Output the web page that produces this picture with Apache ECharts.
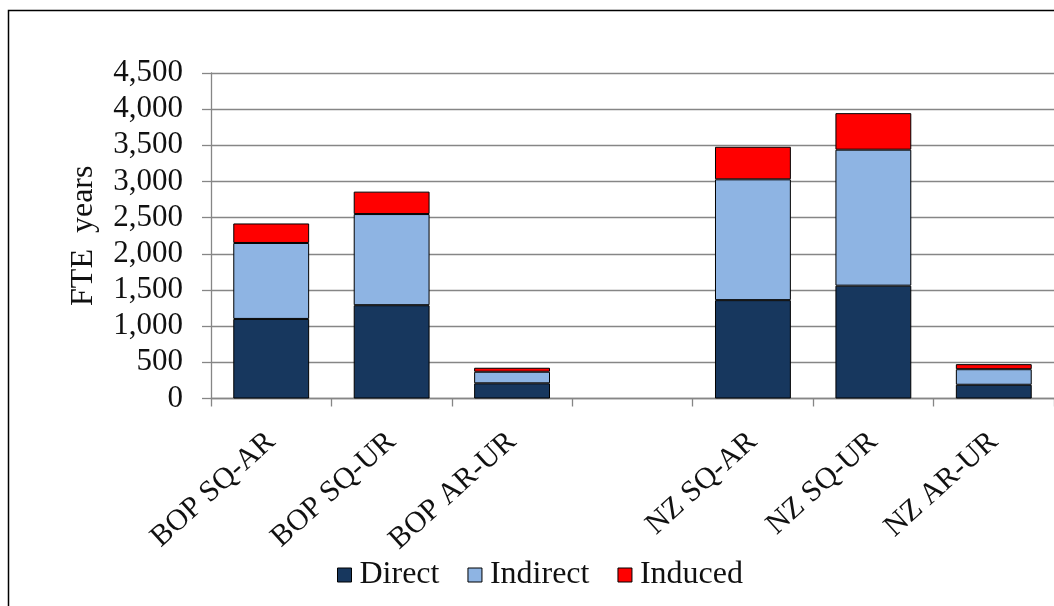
<!DOCTYPE html>
<html>
<head>
<meta charset="utf-8">
<script src="https://cdn.jsdelivr.net/npm/echarts@6/dist/echarts.min.js"></script>
<style>
  html, body { margin: 0; padding: 0; background: #fff; }
  #chart { width: 1054px; height: 606px; }
</style>
</head>
<body>
<div id="chart"></div>
<script>
// Employment (FTE years) by scenario, stacked by effect type
const categories = ['BOP SQ-AR', 'BOP SQ-UR', 'BOP AR-UR', '', 'NZ SQ-AR', 'NZ SQ-UR', 'NZ AR-UR'];
const direct   = [1100, 1290, 210, null, 1360, 1560, 190];
const indirect = [1050, 1260, 160, null, 1670, 1880, 215];
const induced  = [270,  310,  55,  null, 450,  505,  70];
const seriesNames = ['Direct', 'Indirect', 'Induced'];
const seriesColors = ['#17375E', '#8EB4E3', '#FF0000'];

const FONT = '"Liberation Serif", "Times New Roman", serif';
const chart = echarts.init(document.getElementById('chart'), null, { renderer: 'canvas' });

const values = [direct, indirect, induced];
const series = seriesNames.map((name, i) => ({
  name: name,
  type: 'bar',
  stack: 'total',
  barWidth: '63%',
  data: values[i],
  itemStyle: { color: seriesColors[i], borderColor: '#000', borderWidth: 1 }
}));

chart.setOption({
  backgroundColor: '#fff',
  animation: false,
  graphic: [{
    type: 'rect',
    shape: { x: 8.5, y: 10.5, width: 1200, height: 800 },
    style: { fill: 'none', stroke: '#000', lineWidth: 1.5 },
    silent: true
  }],
  grid: { left: 211, top: 73, width: 852, height: 325.5 },
  legend: {
    data: seriesNames,
    left: 332,
    top: 554,
    itemWidth: 14,
    itemHeight: 14,
    itemGap: 28,
    icon: 'rect',
    itemStyle: { borderColor: '#000', borderWidth: 1 },
    textStyle: { fontFamily: FONT, fontSize: 32, color: '#111', padding: [0, 0, 0, 3] }
  },
  xAxis: {
    type: 'category',
    data: categories,
    axisLine: { lineStyle: { color: '#868686', width: 1.3 } },
    axisTick: { show: true, length: 8, alignWithLabel: false, lineStyle: { color: '#868686', width: 1.3 } },
    axisLabel: {
      interval: 0,
      rotate: 42,
      margin: 39,
      fontFamily: FONT,
      fontSize: 30,
      color: '#111'
    }
  },
  yAxis: {
    type: 'value',
    min: 0,
    max: 4500,
    interval: 500,
    name: 'FTE  years',
    nameLocation: 'middle',
    nameGap: 111,
    nameRotate: 90,
    nameTextStyle: { fontFamily: FONT, fontSize: 32, color: '#111' },
    axisLine: { show: true, lineStyle: { color: '#868686', width: 1.3 } },
    axisTick: { show: true, length: 9, lineStyle: { color: '#868686', width: 1.3 } },
    splitLine: { show: true, lineStyle: { color: '#868686', width: 1.3 } },
    axisLabel: {
      margin: 28,
      fontFamily: FONT,
      fontSize: 31,
      color: '#111',
      formatter: v => v.toLocaleString('en-US')
    }
  },
  series: series
});
</script>
</body>
</html>
